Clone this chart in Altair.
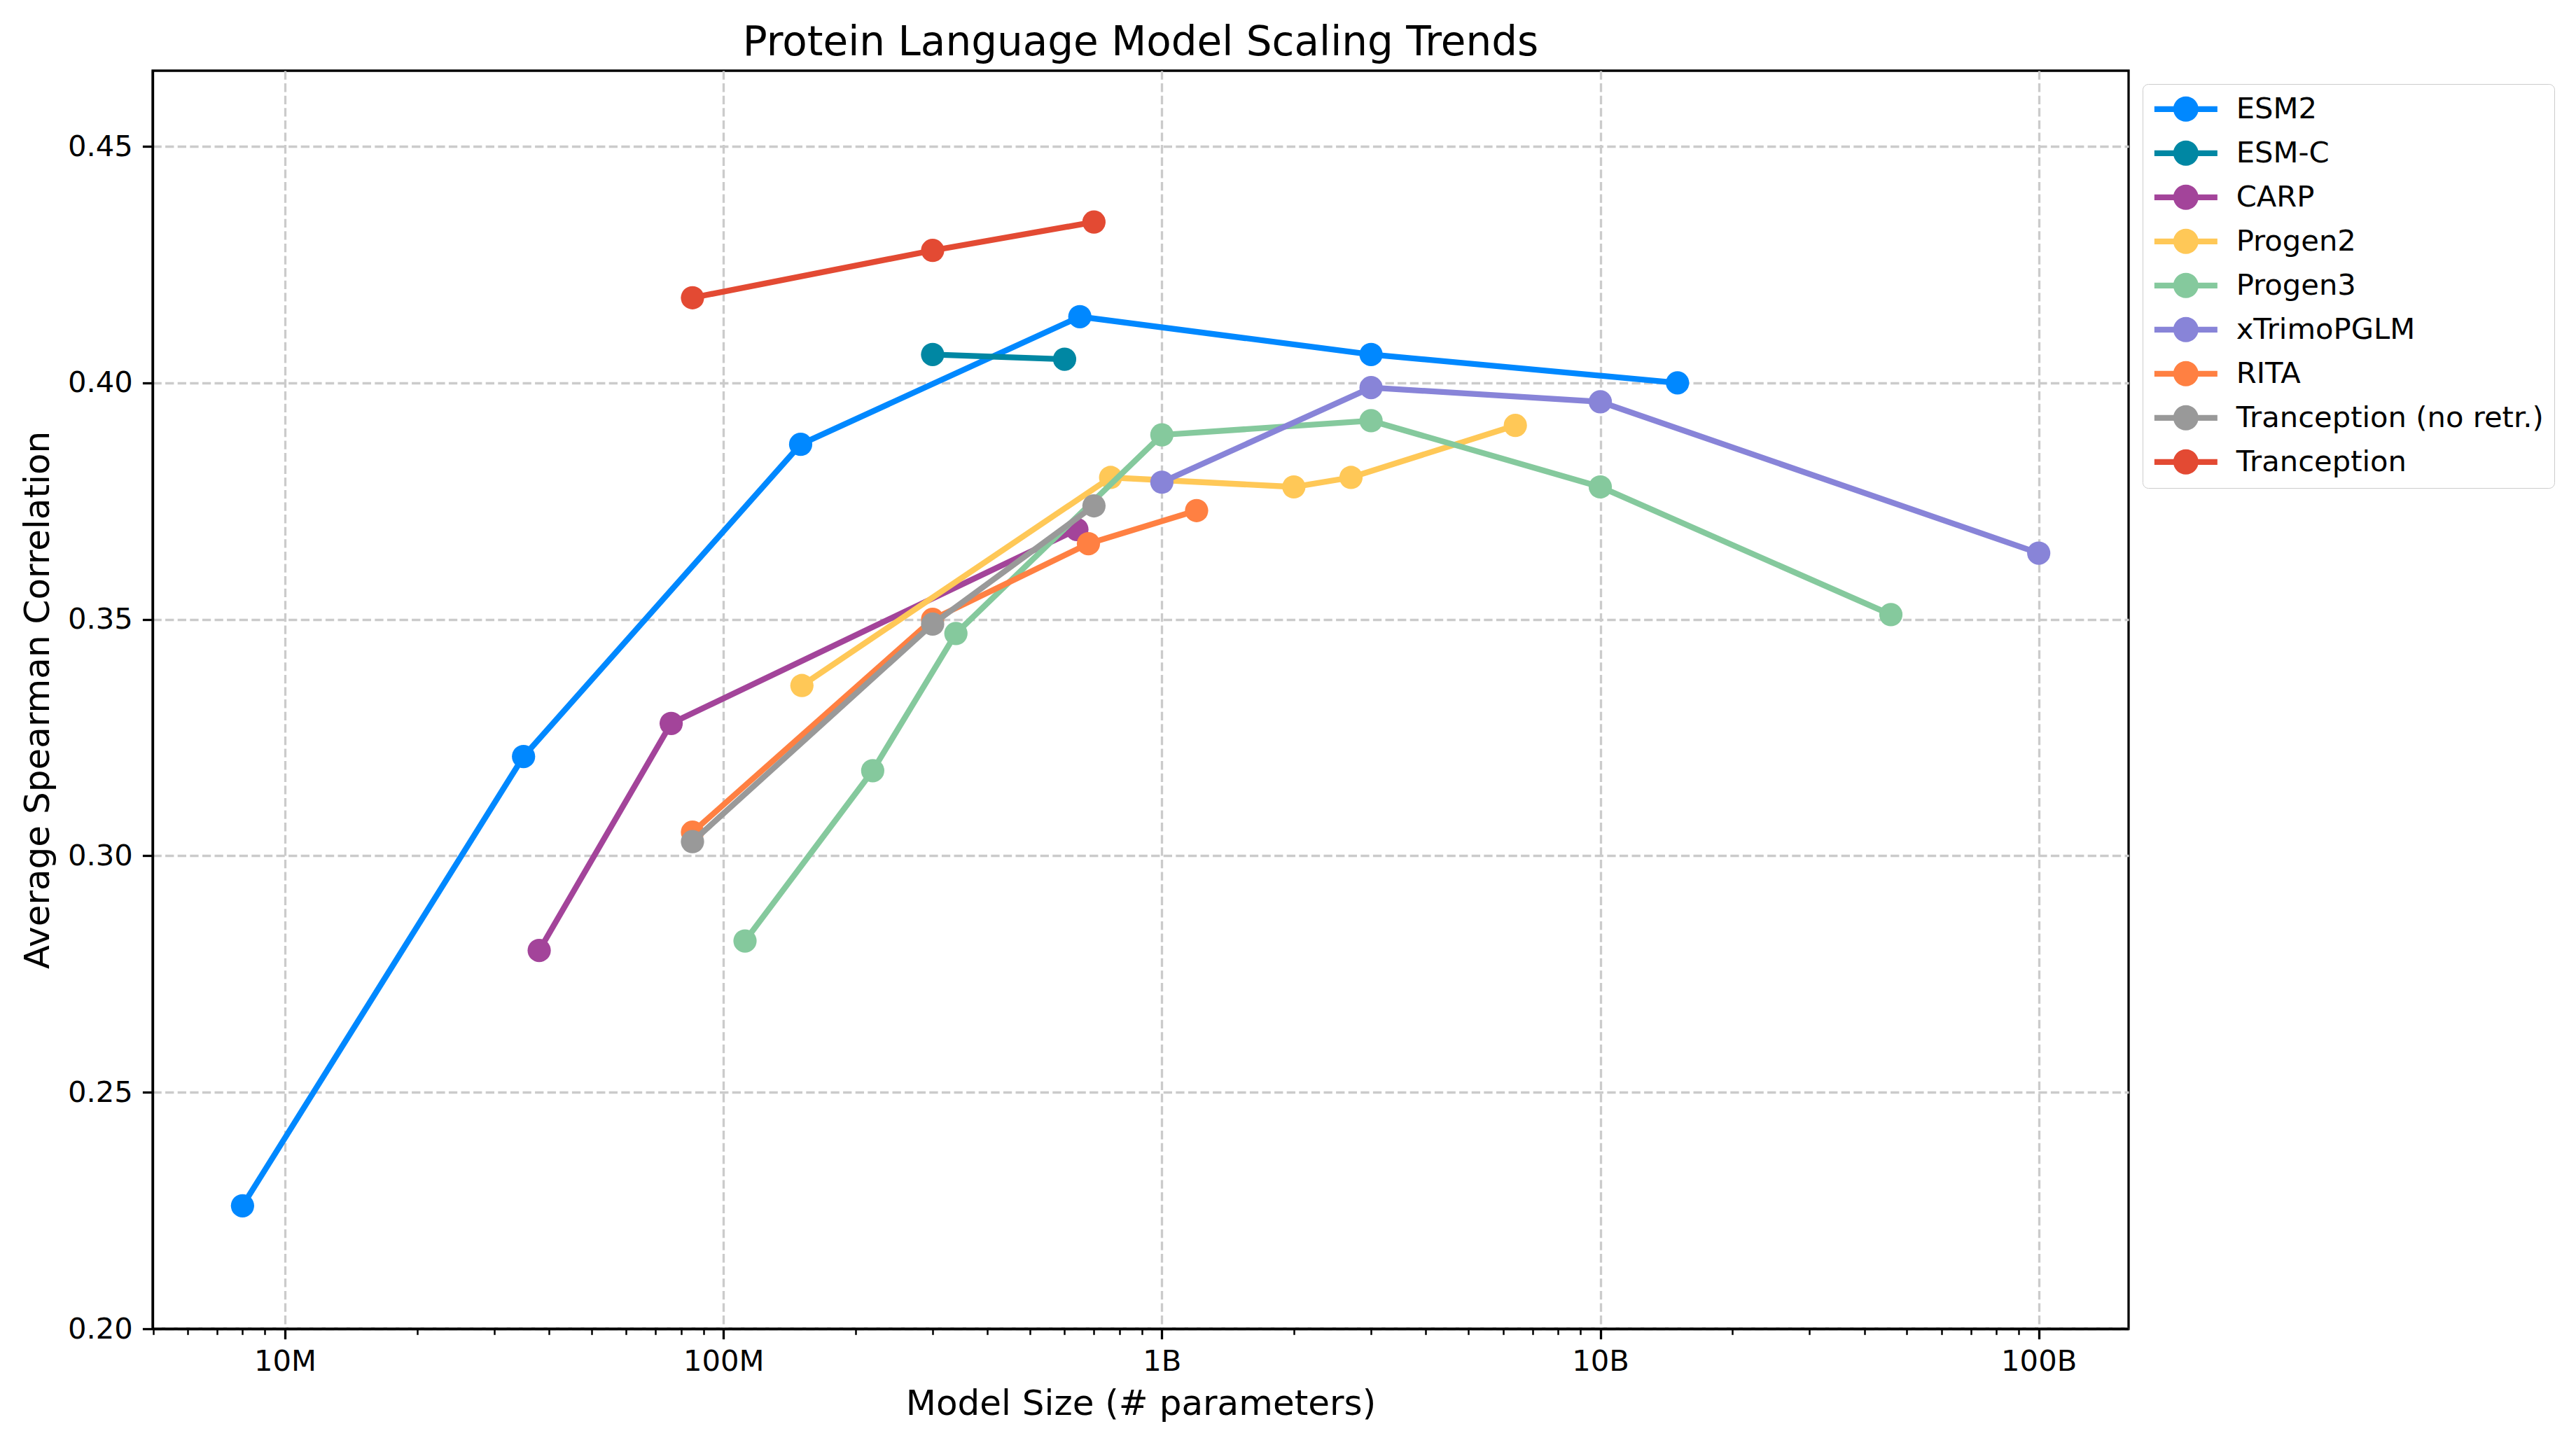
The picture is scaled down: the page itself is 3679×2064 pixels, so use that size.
import altair as alt
import pandas as pd

# ---------------- data ----------------
models = ["ESM2", "ESM-C", "CARP", "Progen2", "Progen3", "xTrimoPGLM",
          "RITA", "Tranception (no retr.)", "Tranception"]
colors = ["#0088FF", "#0087A3", "#A3449A", "#FFC857", "#85C99D", "#8884D8",
          "#FF8042", "#999999", "#E34A33"]

esm2_size = [8e6, 35e6, 150e6, 650e6, 3e9, 15e9]
esm2_corr = [0.226, 0.321, 0.387, 0.414, 0.406, 0.400]

esmc_size = [300e6, 600e6]
esmc_corr = [0.406, 0.405]

carp_size = [38e6, 76e6, 640e6]
carp_corr = [0.280, 0.328, 0.369]

progen2_size = [151e6, 764e6, 2.0e9, 2.7e9, 6.4e9]
progen2_corr = [0.336, 0.380, 0.378, 0.380, 0.391]

progen3_size = [112e6, 219e6, 339e6, 1e9, 3e9, 10e9, 46e9]
progen3_corr = [0.282, 0.318, 0.347, 0.389, 0.392, 0.378, 0.351]

xtrimo_size = [1e9, 3e9, 10e9, 100e9]
xtrimo_corr = [0.379, 0.399, 0.396, 0.364]

rita_size = [85e6, 300e6, 680e6, 1.2e9]
rita_corr = [0.305, 0.350, 0.366, 0.373]

tranc_nr_size = [85e6, 300e6, 700e6]
tranc_nr_corr = [0.303, 0.349, 0.374]

tranc_size = [85e6, 300e6, 700e6]
tranc_corr = [0.418, 0.428, 0.434]

x_tick_values = [1e7, 1e8, 1e9, 1e10, 1e11]
x_tick_labels = ["10M", "100M", "1B", "10B", "100B"]
y_tick_values = [0.20, 0.25, 0.30, 0.35, 0.40, 0.45]

series = [esm2_size, esmc_size, carp_size, progen2_size, progen3_size,
          xtrimo_size, rita_size, tranc_nr_size, tranc_size]
values = [esm2_corr, esmc_corr, carp_corr, progen2_corr, progen3_corr,
          xtrimo_corr, rita_corr, tranc_nr_corr, tranc_corr]

rows = []
for m, xs, ys in zip(models, series, values):
    for xv, yv in zip(xs, ys):
        rows.append({"model": m, "size": xv, "corr": yv})
df = pd.DataFrame(rows)

minor_ticks = []
for e in range(6, 12):
    for k in range(2, 10):
        v = k * 10 ** e
        if 4.99e6 <= v <= 1.603e11:
            minor_ticks.append(float(v))

label_expr = ""
for v, l in zip(x_tick_values, x_tick_labels):
    label_expr += f"datum.value == {v} ? '{l}' : "
label_expr += "''"

# ---------------- scales / axes ----------------
FONT = "DejaVu Sans"
xscale = alt.Scale(type="log", domain=[4.99e6, 1.603e11], nice=False)
yscale = alt.Scale(domain=[0.2, 0.466], nice=False, zero=False)
cscale = alt.Scale(domain=models, range=colors)

major_x_axis = alt.Axis(values=x_tick_values, labelExpr=label_expr,
                        title="Model Size (# parameters)", orient="bottom",
                        grid=True, gridDash=[12.3, 5.3], gridColor="#cbcbcb",
                        gridWidth=3.3, tickSize=14.6, tickWidth=3.3,
                        tickColor="black", domainColor="black", domainWidth=3.3,
                        labelPadding=12, titlePadding=14,
                        labelFontSize=41.7, titleFontSize=50,
                        labelFont=FONT, titleFont=FONT,
                        titleFontWeight="normal", labelColor="black",
                        titleColor="black")
y_axis = alt.Axis(values=y_tick_values, format=".2f",
                  title="Average Spearman Correlation",
                  grid=True, gridDash=[12.3, 5.3], gridColor="#cbcbcb",
                  gridWidth=3.3, tickSize=14.6, tickWidth=3.3,
                  tickColor="black", domainColor="black", domainWidth=3.3,
                  labelPadding=14, titlePadding=17,
                  labelFontSize=41.7, titleFontSize=50,
                  labelFont=FONT, titleFont=FONT,
                  titleFontWeight="normal", labelColor="black",
                  titleColor="black")

legend_path = ("M-2.5,-0.23L2.5,-0.23L2.5,0.23L-2.5,0.23Z "
               "M-1,0A1,1 0 1,1 1,0A1,1 0 1,1 -1,0Z")
legend_def = alt.Legend(title=None, orient="none", legendX=2842, legendY=19,
                        symbolType=legend_path, symbolSize=1296,
                        symbolStrokeWidth=0, symbolOffset=26,
                        labelFontSize=41.7, labelFont=FONT, labelOffset=51,
                        rowPadding=20, padding=15, strokeColor="#cccccc",
                        fillColor="white", cornerRadius=8,
                        labelLimit=1000, labelColor="black")

layers = []
for i, m in enumerate(models):
    sub = df[df["model"] == m]
    line = alt.Chart(sub).mark_line(strokeWidth=8.3, color=colors[i]).encode(
        x=alt.X("size:Q", scale=xscale,
                axis=major_x_axis if i == 0 else None),
        y=alt.Y("corr:Q", scale=yscale, axis=y_axis),
    )
    pts = alt.Chart(sub).mark_point(filled=True, size=1104, opacity=1).encode(
        x=alt.X("size:Q", scale=xscale, axis=None),
        y=alt.Y("corr:Q", scale=yscale, axis=y_axis),
        color=alt.Color("model:N", scale=cscale, legend=legend_def),
    )
    layers += [line, pts]

minor = alt.Chart(df).mark_line(strokeOpacity=0).encode(
    x=alt.X("size:Q", scale=xscale,
            axis=alt.Axis(values=minor_ticks, labels=False, ticks=True,
                          tickSize=8.3, tickWidth=2.5, tickColor="black",
                          grid=False, domain=False, title=None,
                          orient="bottom")),
    y=alt.Y("corr:Q", scale=yscale, axis=y_axis),
    detail="model:N",
)
layers.append(minor)

chart = alt.layer(*layers).resolve_axis(x="independent").properties(
    width=2822,
    height=1797,
    background="white",
    title=alt.TitleParams("Protein Language Model Scaling Trends",
                          fontSize=58, font=FONT, fontWeight="normal",
                          anchor="middle", offset=10, color="black"),
    autosize=alt.AutoSizeParams(type="none"),
    padding={"left": 210, "top": 93, "right": 630, "bottom": 158},
).configure_view(
    stroke="black", strokeWidth=3.3,
)

chart.save("out.html", embed_options={"renderer": "svg", "actions": False})
